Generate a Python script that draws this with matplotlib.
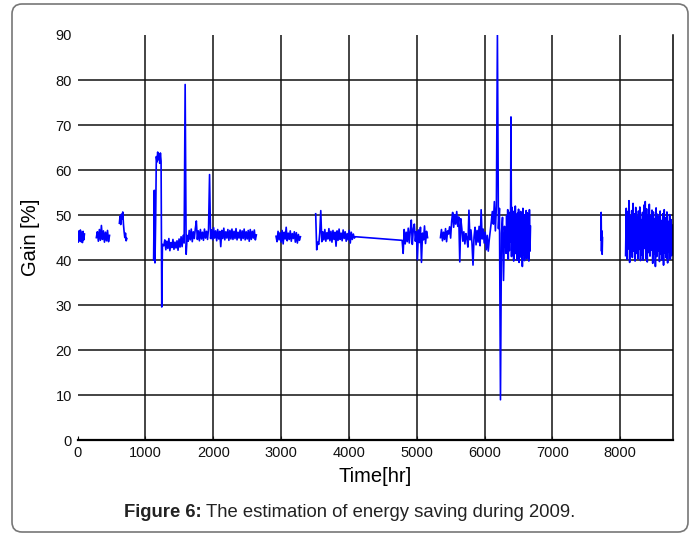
import numpy as np
import matplotlib
matplotlib.use("Agg")
import matplotlib.pyplot as plt
from matplotlib.patches import FancyBboxPatch

plt.rcParams["font.family"] = ["Liberation Sans", "DejaVu Sans"]

# Gain [%] readings, each block: (start hour, step in hours, values)
s1 = (0, 10, [45.2, 44.0, 46.5, 44.3, 46.7, 44.1, 46.2, 43.9, 46.4, 44.5, 45.8])
s2 = (275, 15, [45.0, 46.3, 44.2, 46.8, 44.4, 47.7, 44.6, 46.5, 44.0, 46.2, 44.3, 46.6, 44.1, 45.5])
s3 = (615, 10, [48.2, 49.8, 47.9, 50.2, 49.1, 50.7, 48.0, 46.3, 45.0, 46.0, 44.3, 44.8])
s4a = (1120, 10, [40.0, 55.5, 39.4, 49.0, 63.0, 61.8, 64.0, 62.3, 63.6, 61.5, 63.8, 62.0, 29.6, 43.5])
s4b = (1270, 15, [43.2, 44.5, 42.3, 44.2, 42.6, 44.8, 42.1, 43.9, 42.8, 44.6, 42.4, 44.0, 42.7, 44.3,
                  42.2, 44.7, 42.9, 45.2, 43.0, 45.5, 43.8, 79.0, 41.3])
s4c = (1615, 15, [45.5, 44.2, 46.6, 44.5, 46.9, 44.1, 46.3, 44.8, 47.0, 48.7, 44.6, 46.5, 44.3, 46.8,
                  44.7, 46.2, 44.4, 46.9, 44.9, 46.4, 44.6, 47.0, 59.0, 44.8, 46.7, 44.5, 47.2, 44.9,
                  46.5, 44.3, 46.8, 44.7, 46.4, 43.0, 46.6, 44.8, 47.1, 44.5, 46.3, 44.9, 46.8, 44.4,
                  46.6, 44.7, 46.9, 44.6, 46.4, 44.8, 47.0, 44.5, 46.2, 44.9, 46.7, 44.4, 46.5, 44.8,
                  46.9, 44.5, 46.3, 44.7, 46.6, 44.2, 46.8, 44.6, 46.4, 44.9, 46.7, 44.5, 45.6])
s5 = (2925, 15, [45.3, 44.1, 46.4, 44.5, 46.1, 44.0, 46.6, 43.6, 46.2, 44.7, 47.3, 44.3, 46.0, 44.6,
                 46.5, 44.2, 45.9, 44.8, 46.3, 44.0, 46.1, 43.8, 45.7, 44.4, 45.2])
s6a = (3510, 15, [50.3, 42.3, 44.0, 43.5, 46.0, 51.0, 44.1, 46.3, 44.5, 46.8, 44.2, 46.1, 44.7, 47.0,
                  44.3, 46.4, 44.0, 46.6, 44.6, 46.2, 43.1, 46.5, 44.4, 46.9, 44.6, 46.0, 44.3, 46.7,
                  44.8, 46.3, 44.2, 45.9, 44.5, 46.6, 43.8, 46.2, 44.6, 45.8, 44.9, 45.2])
s6b = (4785, 15, [44.4, 41.5, 46.8, 43.6, 46.2, 44.1, 47.1, 43.8, 46.5, 48.9, 43.5, 46.9, 48.0, 44.2,
                  46.3, 40.1, 46.7, 43.9, 47.3, 39.5, 46.0, 44.5, 47.6, 43.7, 46.4, 45.0])
s7 = (5350, 15, [45.0, 46.8, 44.3, 46.2, 44.6, 47.0, 44.1, 46.5, 45.8, 47.4, 44.9,
                 48.6, 50.6, 47.3, 50.1, 48.0, 50.8, 47.5, 49.6, 39.6, 49.2, 47.0,
                 44.2, 46.3, 43.6, 45.9, 44.8, 42.9, 51.1, 44.5, 46.7, 43.8, 38.9,
                 45.1, 47.3, 43.4, 46.6, 44.0, 47.5, 43.2, 51.2, 44.7, 46.9,
                 43.8, 46.2, 42.3, 45.5, 42.0, 44.6, 46.5, 48.5, 50.8,
                 48.0, 53.0, 46.5, 52.0, 90.0, 47.0, 51.5, 9.0, 46.0, 49.5, 35.5, 47.5, 44.0])
s8 = (6318, 8, [41.5, 49.8, 43.0, 51.2, 40.2, 48.5, 42.1, 50.6, 44.0, 71.8, 40.8, 51.7, 42.6, 49.0,
                39.8, 50.9, 41.4, 52.0, 43.5, 48.2, 40.0, 50.4, 41.9, 51.3, 39.5, 49.6, 42.8, 50.8,
                40.6, 48.9, 38.6, 51.5, 41.2, 50.1, 39.9, 49.3, 42.4, 51.0, 40.3, 50.5, 41.7, 49.7,
                39.8, 51.2, 42.0, 47.5])
s9 = (7715, 5, [44.5, 50.6, 42.0, 46.5, 41.3, 45.0])
s10 = (8080, 10, [41.0, 51.5, 40.2, 50.8, 42.5, 53.2, 39.5, 49.9, 41.8, 51.0, 40.6, 52.6, 42.0, 50.3,
                  39.8, 51.7, 41.5, 49.5, 40.3, 50.9, 42.4, 51.8, 39.9, 49.0, 41.1, 50.6, 40.0, 52.2,
                  42.6, 53.0, 40.4, 51.4, 39.6, 50.0, 41.7, 52.4, 40.9, 49.8, 42.2, 51.1, 39.3, 50.7,
                  41.4, 49.2, 38.6, 51.6, 40.8, 50.2, 42.0, 49.6, 39.7, 50.9, 41.3, 48.8, 40.1, 50.3,
                  38.9, 51.2, 41.6, 49.4, 40.5, 50.7, 39.4, 48.6, 41.9, 50.1, 40.2, 49.0, 41.0, 47.8])

# blocks inside one run are joined by a line, runs are separated by gaps
runs = [[s1], [s2], [s3], [s4a, s4b, s4c], [s5], [s6a, s6b], [s7, s8], [s9], [s10]]

hours, gain = [], []
for run in runs:
    for start, step, vals in run:
        hours.extend(start + step * np.arange(len(vals)))
        gain.extend(vals)
    hours.append(np.nan)
    gain.append(np.nan)

fig = plt.figure(figsize=(6.96, 5.34), dpi=100)
ax = fig.add_axes([0.1116, 0.1755, 0.8558, 0.759])

ax.plot(hours, gain, color="blue", lw=1.2)

ax.set_xlim(0, 8784)
ax.set_ylim(0, 90)
ax.set_xticks(range(0, 9000, 1000))
ax.set_yticks(range(0, 100, 10))
ax.grid(True, color="#111111", lw=1.1)
ax.get_ygridlines()[-1].set_visible(False)
ax.get_ygridlines()[0].set_visible(False)
ax.get_xgridlines()[0].set_visible(False)
ax.set_axisbelow(True)

for side in ["top", "left"]:
    ax.spines[side].set_visible(False)
ax.spines["bottom"].set_linewidth(1.6)
ax.spines["right"].set_linewidth(1.1)
ax.tick_params(axis="x", direction="in", length=3, labelsize=10.5, colors="#111111", pad=4)
ax.tick_params(axis="y", length=0, labelsize=10.5, colors="#111111", pad=4)

ax.set_xlabel("Time[hr]", fontsize=14.5)
ax.set_ylabel("Gain [%]", fontsize=14.5)
ax.xaxis.set_label_coords(0.5, -0.066)
ax.yaxis.set_label_coords(-0.063, 0.5)

fig.text(202 / 696, 0.040, "Figure 6:", fontsize=13.3, fontweight="bold",
         ha="right", va="center", color="#222222")
fig.text(206 / 696, 0.040, "The estimation of energy saving during 2009.", fontsize=13.3,
         ha="left", va="center", color="#222222")

frame = FancyBboxPatch((12, 2), 676, 528, boxstyle="round,pad=0,rounding_size=10",
                       transform=None, fill=False, edgecolor="#777777", lw=1.2)
fig.patches.append(frame)

fig.savefig("out.png", dpi=100)
